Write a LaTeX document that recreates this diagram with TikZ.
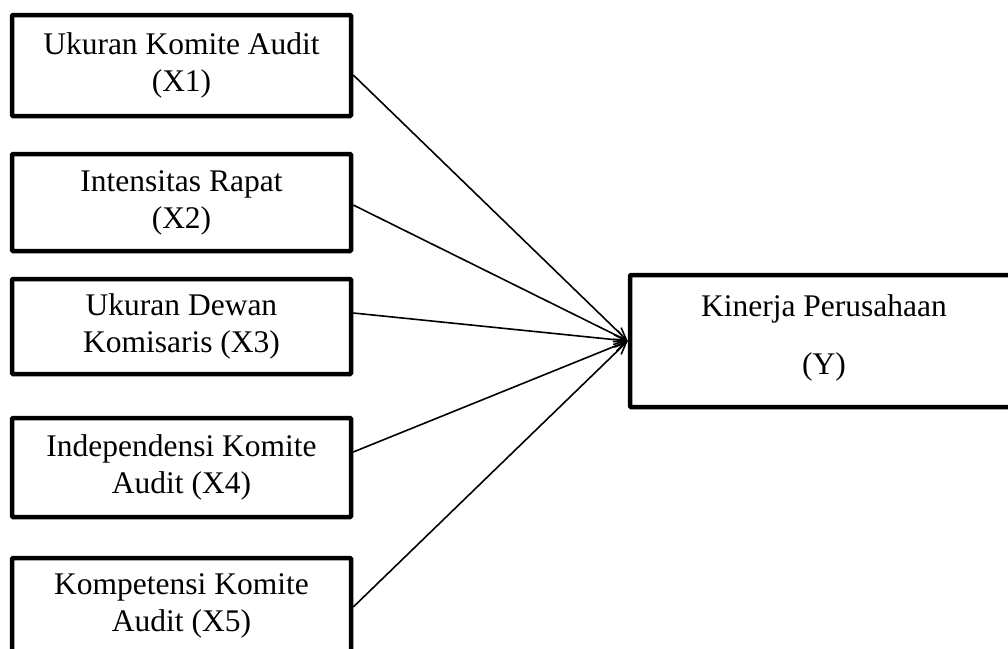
\documentclass[tikz,border=0pt]{standalone}
\usepackage{fontspec}
\setmainfont{Liberation Serif}
\usetikzlibrary{arrows.meta}
\begin{document}
\begin{tikzpicture}[x=1pt,y=-1pt,
  varbox/.style={draw, line width=4.5pt, rectangle, rounded corners=1pt, inner sep=0pt,
    align=center, font=\fontsize{31.5}{37}\selectfont, minimum width=339pt},
  link/.style={line width=1.6pt, -{Straight Barb[length=12pt,width=10pt,line width=1.6pt]}}]
\useasboundingbox (0,0) rectangle (1008,648);
\node[varbox, minimum height=101pt] (x1) at (181.5,65.5) {Ukuran Komite Audit\\(X1)};
\node[varbox, minimum height=97pt] (x2) at (181.5,202.5) {Intensitas Rapat\\(X2)};
\node[varbox, minimum height=95pt] (x3) at (181.5,326.5) {Ukuran Dewan\\Komisaris (X3)};
\node[varbox, minimum height=99pt] (x4) at (181.5,467.5) {Independensi Komite\\Audit (X4)};
\node[varbox, minimum height=96pt] (x5) at (181.5,606) {Kompetensi Komite\\Audit (X5)};
\node[varbox, minimum width=420pt, minimum height=132pt] (yy) at (840,341) {};
\node[align=center, inner sep=0pt, font=\fontsize{31.5}{37}\selectfont] (ytext) at (824,338) {Kinerja Perusahaan\\[21pt](Y)};
\draw[link] ([yshift=-9.5pt]x1.east) -- (yy.west);
\draw[link] ([yshift=-2.5pt]x2.east) -- (yy.west);
\draw[link] ([yshift=13.5pt]x3.east) -- (yy.west);
\draw[link] ([yshift=15.5pt]x4.east) -- (yy.west);
\draw[link] ([yshift=-1pt]x5.east) -- (yy.west);
\end{tikzpicture}
\end{document}
